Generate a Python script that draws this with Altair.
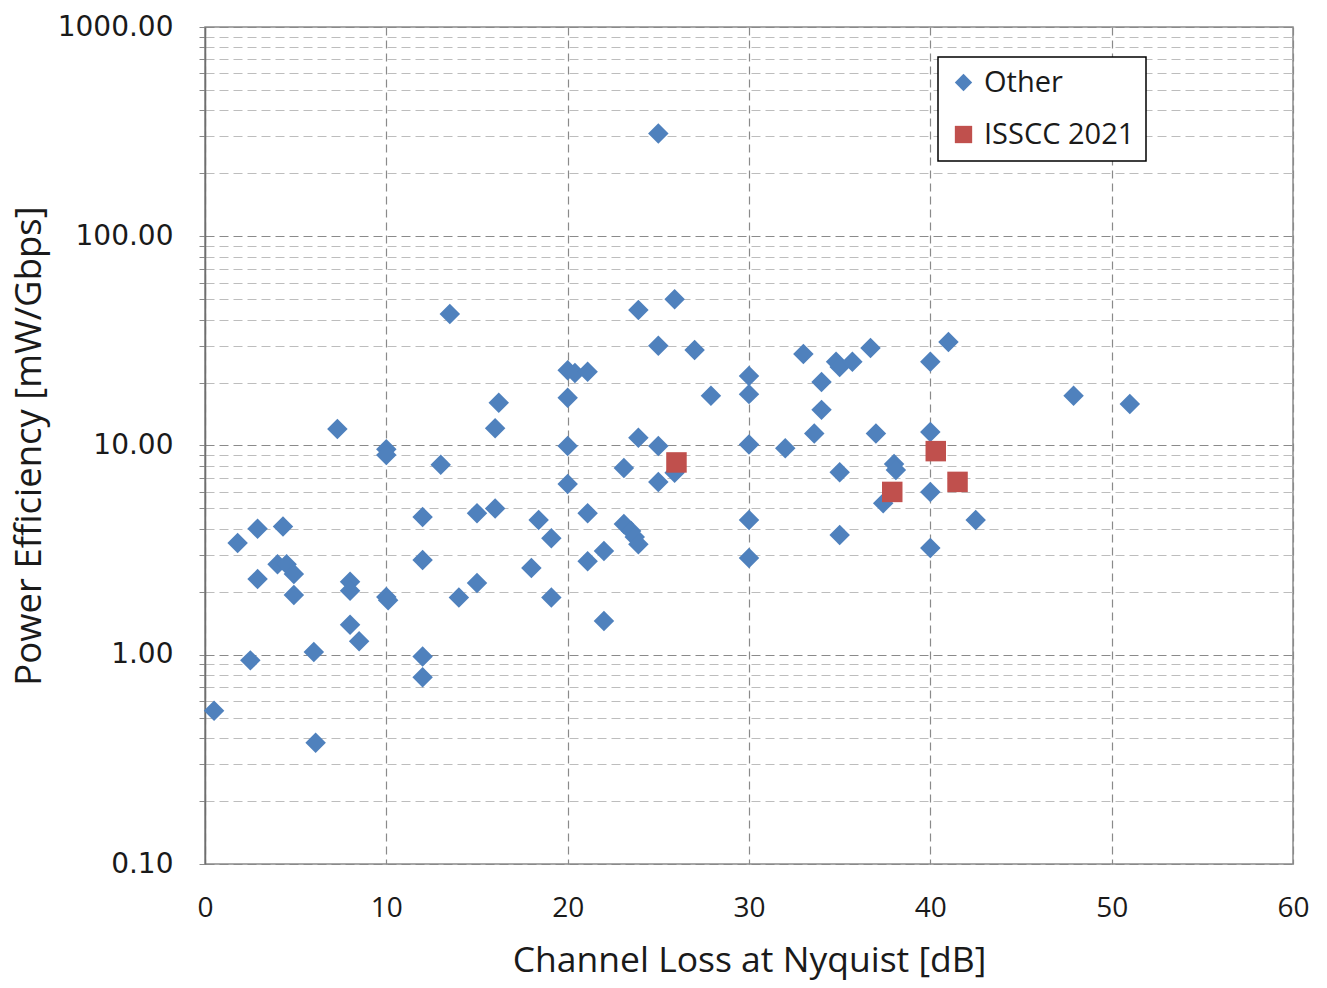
import altair as alt
import pandas as pd

# Channel loss at Nyquist [dB] and power efficiency [mW/Gbps]
other_loss = [
    0.5, 1.8, 2.9, 2.9, 2.5, 4.3, 4.0, 4.5, 4.9, 4.9,
    6.0, 6.1, 7.3, 8.0, 8.0, 8.0, 8.5, 10.0, 10.0, 10.0,
    10.1, 12.0, 12.0, 12.0, 12.0, 13.0, 13.5, 14.0, 15.0, 15.0,
    16.0, 16.0, 16.2, 18.0, 18.4, 19.1, 19.1, 20.0, 20.0, 20.0,
    20.0, 20.4, 21.1, 21.1, 21.1, 22.0, 22.0, 23.1, 23.1, 23.5,
    23.7, 23.9, 23.9, 23.9, 25.0, 25.0, 25.0, 25.0, 25.9, 25.9,
    27.0, 27.9, 30.0, 30.0, 30.0, 30.0, 30.0, 32.0, 33.0, 33.6,
    34.0, 34.0, 34.8, 35.0, 35.7, 35.0, 35.0, 36.7, 37.0, 37.4,
    38.0, 38.1, 40.0, 40.0, 40.0, 40.0, 41.0, 42.5, 47.9, 51.0,
]
other_eff = [
    0.54, 3.42, 4.0, 2.3, 0.94, 4.1, 2.71, 2.71, 2.43, 1.93,
    1.03, 0.38, 12.0, 2.23, 2.02, 1.39, 1.16, 9.6, 9.0, 1.89,
    1.82, 4.55, 2.84, 0.98, 0.78, 8.1, 42.5, 1.88, 4.75, 2.2,
    5.0, 12.1, 16.0, 2.6, 4.4, 3.6, 1.88, 22.9, 16.9, 9.95,
    6.55, 22.2, 22.5, 4.75, 2.8, 3.13, 1.45, 7.8, 4.22, 3.9,
    3.65, 3.37, 44.4, 10.9, 310.0, 30.0, 9.95, 6.7, 50.0, 7.4,
    28.6, 17.3, 21.5, 17.6, 10.1, 4.4, 2.9, 9.7, 27.4, 11.4,
    20.1, 14.8, 25.1, 23.7, 25.1, 7.46, 3.73, 29.2, 11.4, 5.3,
    8.16, 7.64, 25.1, 11.6, 6.0, 3.24, 31.2, 4.4, 17.3, 15.8,
]
isscc_loss = [26.0, 37.9, 40.3, 41.5]
isscc_eff = [8.3, 6.0, 9.4, 6.7]

series_names = ["Other", "ISSCC 2021"]
series_colors = ["#4F81BD", "#C0504D"]
series_shapes = ["diamond", "square"]

df = pd.concat([
    pd.DataFrame({"loss": other_loss, "eff": other_eff, "series": "Other"}),
    pd.DataFrame({"loss": isscc_loss, "eff": isscc_eff, "series": "ISSCC 2021"}),
], ignore_index=True)

# log-axis ticks: every 1..9 multiple of each decade
y_ticks = [round(d * k, 6) for d in [0.1, 1, 10, 100] for k in range(1, 10)] + [1000]
is_decade = "abs(log(datum.value)/LN10 - round(log(datum.value)/LN10)) < 1e-6"

TITLE_FONT = "Open Sans"

chart = alt.Chart(df).mark_point(
    filled=True, opacity=1, size=420, strokeWidth=0
).encode(
    x=alt.X(
        "loss:Q",
        scale=alt.Scale(domain=[0, 60], nice=False),
        axis=alt.Axis(
            values=[0, 10, 20, 30, 40, 50, 60],
            title="Channel Loss at Nyquist [dB]",
            grid=True,
            gridColor="#8a8a8a",
            gridDash=[8, 5],
            gridWidth=1.2,
            ticks=False,
            tickSize=0,
            domain=False,
            labelFont=TITLE_FONT,
            labelFontSize=28,
            labelColor="#1a1a1a",
            labelPadding=30,
            labelFlush=False,
            labelBound=False,
            titleFont=TITLE_FONT,
            titleFontSize=35.5,
            titleFontWeight="normal",
            titleColor="#1a1a1a",
            titleBaseline="middle",
            titleY=96,
        ),
    ),
    y=alt.Y(
        "eff:Q",
        scale=alt.Scale(type="log", domain=[0.1, 1000], nice=False),
        axis=alt.Axis(
            values=y_ticks,
            labelExpr=f"({is_decade}) ? format(datum.value, '.2f') : ''",
            title="Power Efficiency [mW/Gbps]",
            grid=True,
            gridColor={"condition": {"test": is_decade, "value": "#8a8a8a"}, "value": "#bdbdbd"},
            gridDash=[9, 5],
            gridWidth=1.2,
            ticks=True,
            tickSize=6,
            tickColor="#8a8a8a",
            domain=True,
            domainColor="#6e6e6e",
            domainWidth=1.5,
            labelFont="DejaVu Sans",
            labelFontSize=28,
            labelColor="#1a1a1a",
            labelPadding=26,
            labelBound=False,
            labelFlush=False,
            titleFont=TITLE_FONT,
            titleFontSize=36.5,
            titleFontWeight="normal",
            titleColor="#1a1a1a",
            titleBaseline="middle",
            titleX=-176,
        ),
    ),
    color=alt.Color(
        "series:N",
        scale=alt.Scale(domain=series_names, range=series_colors),
        legend=alt.Legend(
            title=None,
            orient="none",
            legendX=733,
            legendY=30,
            padding=11,
            strokeColor="#000000",
            fillColor="#ffffff",
            labelFont=TITLE_FONT,
            labelFontSize=29,
            labelColor="#1a1a1a",
            labelOffset=6,
            rowPadding=22,
            symbolSize=300,
            symbolStrokeWidth=0,
        ),
    ),
    shape=alt.Shape(
        "series:N",
        scale=alt.Scale(domain=series_names, range=series_shapes),
    ),
    order=alt.Order("order:Q"),
).transform_calculate(
    order="datum.series == 'Other' ? 0 : 1"
).properties(
    width=1088,
    height=837,
    padding={"left": 205, "top": 27, "right": 34, "bottom": 124},
    autosize=alt.AutoSizeParams(type="none"),
).configure_view(
    stroke="#8a8a8a", strokeWidth=1.5
).configure_legend(
    strokeWidth=1.5
)

chart.save("out.html", embed_options={"renderer": "svg", "actions": False})
